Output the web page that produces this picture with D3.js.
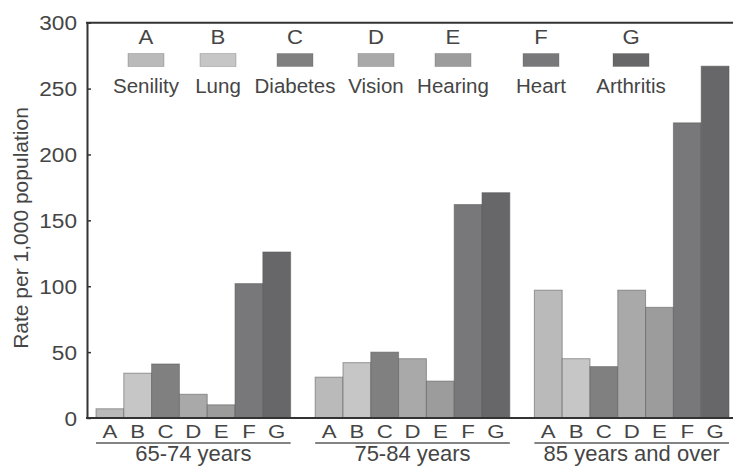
<!DOCTYPE html>
<html><head><meta charset="utf-8">
<script src="https://cdn.jsdelivr.net/npm/d3@7"></script>
<style>
body{margin:0;background:#fff}
svg{display:block}
text{font-family:"Liberation Sans",Arial,Helvetica,sans-serif;fill:#454545}
</style>
</head><body>
<svg id="c" width="733" height="466"></svg>
<script>
// ---- data ----
const ageGroups = ["65-74 years", "75-84 years", "85 years and over"];
const codes = ["A", "B", "C", "D", "E", "F", "G"];
const conditions = ["Senility", "Lung", "Diabetes", "Vision", "Hearing", "Heart", "Arthritis"];
const rates65 = [7, 34, 41, 18, 10, 102, 126];
const rates75 = [31, 42, 50, 45, 28, 162, 171];
const rates85 = [97, 45, 39, 97, 84, 224, 267];
const yTicks = [0, 50, 100, 150, 200, 250, 300];

// ---- style / layout ----
const fills = ["#bababa", "#c6c6c6", "#808081", "#a9a9a9", "#9c9c9c", "#78787a", "#67676a"];
const legendX = [146, 218, 295, 376, 453, 541, 631];

const series = [rates65, rates75, rates85];
const svg = d3.select("#c");

const x0 = d3.scaleBand().domain(ageGroups).range([96, 729]).paddingInner(0.112).paddingOuter(0);
const x1 = d3.scaleBand().domain(codes).range([0, x0.bandwidth()]).padding(0);
const y = d3.scaleLinear().domain([0, 300]).range([418, 22.7]);
const color = d3.scaleOrdinal().domain(codes).range(fills);

// bars
const groups = svg.append("g").selectAll("g").data(ageGroups).join("g")
  .attr("transform", d => `translate(${x0(d)},0)`);
groups.selectAll("rect")
  .data((g, i) => codes.map((c, j) => ({code: c, value: series[i][j]})))
  .join("rect")
  .attr("x", d => x1(d.code))
  .attr("width", x1.bandwidth())
  .attr("y", d => y(d.value))
  .attr("height", d => y(0) - y(d.value))
  .attr("fill", d => color(d.code))
  .attr("stroke", "#5a5a5a")
  .attr("stroke-opacity", 0.55)
  .attr("stroke-width", 1);

// category letters under bars
groups.selectAll("text.code").data(codes).join("text")
  .attr("class", "code")
  .attr("transform", d => `translate(${x1(d) + x1.bandwidth() / 2},438) scale(1.17,1)`)
  .attr("text-anchor", "middle")
  .style("font-size", "19px")
  .text(d => d);

// underline
groups.append("line")
  .attr("x1", 0).attr("x2", x0.bandwidth())
  .attr("y1", 443).attr("y2", 443)
  .attr("stroke", "#5a5a5a").attr("stroke-width", 1.6);

// group labels
groups.append("text")
  .attr("x", x0.bandwidth() / 2)
  .attr("y", 461)
  .attr("text-anchor", "middle")
  .style("font-size", "22px")
  .text(d => d);

// y axis
const yAxis = svg.append("g")
  .attr("transform", "translate(87,0)")
  .call(d3.axisLeft(y).tickValues(yTicks).tickSize(-4).tickSizeOuter(0).tickPadding(10));
yAxis.select(".domain").attr("stroke", "#333").attr("stroke-width", 2);
yAxis.selectAll(".tick line").attr("stroke", "#333").attr("stroke-width", 1.5);
yAxis.selectAll(".tick text")
  .attr("x", null).attr("dy", null)
  .attr("transform", "translate(-10,7) scale(1.16,1)")
  .style("font-size", "19.5px")
  .attr("fill", "#454545").attr("font-family", null);

// frame top and baseline
svg.append("line").attr("x1", 86).attr("x2", 733).attr("y1", y(300)).attr("y2", y(300))
  .attr("stroke", "#333").attr("stroke-width", 2);
svg.append("line").attr("x1", 86).attr("x2", 733).attr("y1", y(0)).attr("y2", y(0))
  .attr("stroke", "#333").attr("stroke-width", 2);

// y title
svg.append("text")
  .attr("transform", "translate(28,228) rotate(-90)")
  .attr("text-anchor", "middle")
  .style("font-size", "21px")
  .text("Rate per 1,000 population");

// legend
const leg = svg.append("g").selectAll("g").data(codes).join("g")
  .attr("transform", (d, i) => `translate(${legendX[i]},0)`);
leg.append("text").attr("transform", "translate(0,44) scale(1.08,1)").attr("text-anchor", "middle")
  .style("font-size", "20.5px").text(d => d);
leg.append("rect").attr("x", -18).attr("y", 53.5).attr("width", 36).attr("height", 13)
  .attr("fill", d => color(d)).attr("stroke", "#5a5a5a").attr("stroke-opacity", 0.3);
leg.append("text").attr("y", 93).attr("text-anchor", "middle")
  .style("font-size", "20.5px").text((d, i) => conditions[i]);
</script>
</body></html>
